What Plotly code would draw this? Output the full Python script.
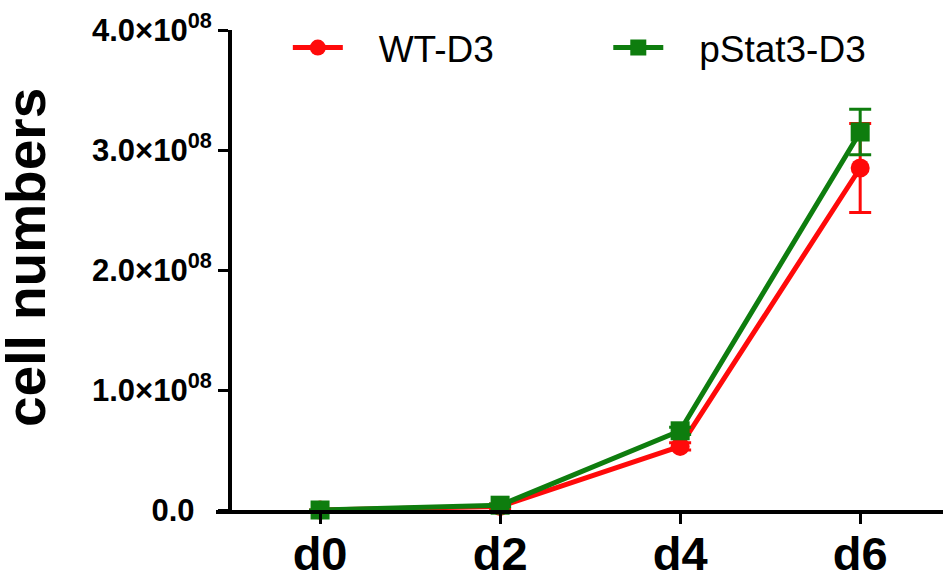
import plotly.graph_objects as go

days = ["d0", "d2", "d4", "d6"]
wt_values = [0.0, 0.03e8, 0.53e8, 2.85e8]
wt_errors = [0.0, 0.02e8, 0.03e8, 0.37e8]
ps_values = [0.0, 0.04e8, 0.66e8, 3.15e8]
ps_errors = [0.0, 0.01e8, 0.03e8, 0.19e8]
y_tickvals = [0, 1e8, 2e8, 3e8, 4e8]
y_ticktext = ["0.0&nbsp;&nbsp;", "1.0×10<sup>08</sup>", "2.0×10<sup>08</sup>",
              "3.0×10<sup>08</sup>", "4.0×10<sup>08</sup>"]

RED = "#FF0A0A"
GREEN = "#0E7D0E"
FONT = "Liberation Sans, Arial, sans-serif"

fig = go.Figure()
fig.add_trace(go.Scatter(
    x=days, y=wt_values, name="&nbsp;&nbsp;&nbsp;WT-D3", mode="lines+markers",
    line=dict(color=RED, width=5),
    marker=dict(symbol="circle", size=19, color=RED),
    error_y=dict(type="data", array=wt_errors, color=RED, thickness=3, width=11),
    cliponaxis=False, legend="legend",
))
fig.add_trace(go.Scatter(
    x=days, y=ps_values, name="&nbsp;&nbsp;&nbsp;pStat3-D3", mode="lines+markers",
    line=dict(color=GREEN, width=5),
    marker=dict(symbol="square", size=19, color=GREEN),
    error_y=dict(type="data", array=ps_errors, color=GREEN, thickness=3, width=11),
    cliponaxis=False, legend="legend2",
))

fig.update_layout(
    width=943, height=577, showlegend=True,
    margin=dict(l=216, r=0, t=30, b=67),
    paper_bgcolor="white", plot_bgcolor="white",
    font=dict(family=FONT, color="black"),
    xaxis=dict(
        type="category", range=[-0.578, 3.46], automargin=False,
        showline=True, linewidth=4, linecolor="black",
        ticks="outside", ticklen=10, tickwidth=3, tickcolor="black",
        ticklabelstandoff=-10,
        showgrid=False, zeroline=False,
        tickfont=dict(size=47, family=FONT, weight="bold"),
    ),
    yaxis=dict(
        range=[0, 4e8], anchor="free", position=0.0193, automargin=False,
        showline=True, linewidth=4, linecolor="black",
        ticks="outside", ticklen=10, tickwidth=3, tickcolor="black",
        tickvals=y_tickvals, ticktext=y_ticktext,
        showgrid=False, zeroline=False,
        tickfont=dict(size=31, family=FONT, weight="bold"),
    ),
    legend=dict(
        x=0.0988, y=0.9625, xanchor="left", yanchor="middle",
        font=dict(size=37, family=FONT), itemwidth=50,
        bgcolor="rgba(0,0,0,0)",
    ),
    legend2=dict(
        x=0.5396, y=0.9625, xanchor="left", yanchor="middle",
        font=dict(size=37, family=FONT), itemwidth=50,
        bgcolor="rgba(0,0,0,0)",
    ),
    annotations=[dict(
        text="cell numbers", xref="paper", yref="paper",
        x=-0.2613, y=0.525, xanchor="center", yanchor="middle",
        textangle=-90, showarrow=False,
        font=dict(size=55, family=FONT, weight="bold", color="black"),
    )],
)

fig.write_html("out.html", config={"displayModeBar": False},
               post_script="document.body.style.margin='0';document.body.style.overflow='hidden';")
